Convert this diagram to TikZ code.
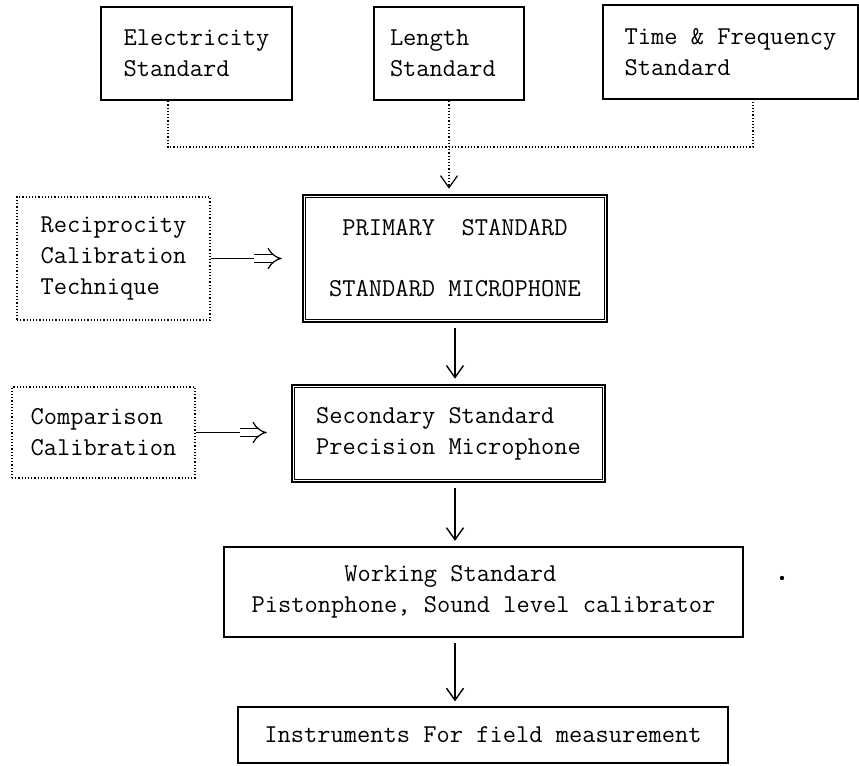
\documentclass[tikz,border=0pt]{standalone}
\usepackage{fontspec}
\usetikzlibrary{arrows.meta,calc}
\begin{document}
\begin{tikzpicture}[x=0.5pt,y=-0.5pt,
  font=\fontsize{12.86pt}{15.5pt}\selectfont\ttfamily,
  box/.style={draw, line width=1.1pt, inner sep=0pt, align=left},
  thinbox/.style={draw, line width=0.6pt, inner sep=0pt, align=left},
  dotbox/.style={draw, densely dotted, line width=0.6pt, inner sep=0pt, align=left},
  dbox/.style={draw, line width=1.3pt, inner sep=0pt, align=center},
  innerline/.style={line width=0.5pt},
  dotline/.style={densely dotted, line width=0.6pt},
  arr/.style={line width=0.7pt, -{Straight Barb[length=6pt,width=8.5pt]}, shorten <=2.5pt, shorten >=2.5pt},
  dotarr/.style={dotline, -{Straight Barb[length=6pt,width=8.5pt]}, shorten >=2.5pt},
  stemline/.style={line width=0.7pt},
  dblarr/.style={double, double distance=3.2pt, line width=0.6pt, -{Implies}}
]
\useasboundingbox (0,0) rectangle (859,766);

% top standards
\node[box, minimum width=95.5pt, minimum height=46.5pt] (elec) at (196.5,53.5) {Electricity\\Standard};
\node[box, minimum width=75pt, minimum height=46.5pt] (len) at (449,53.5) {Length\\\makebox[59pt][l]{Standard}};
\node[box, minimum width=127.5pt, minimum height=47pt] (time) at (730.5,52) {Time \& Frequency\\Standard};

% primary row
\node[dotbox, minimum width=96.5pt, minimum height=61.5pt] (rec) at (113.5,258.5) {Reciprocity\\Calibration\\Technique};
\node[dbox, minimum width=152pt, minimum height=63.5pt] (prim) at (455,258.5) {PRIMARY\ \ STANDARD\\[15pt]STANDARD MICROPHONE};
\draw[innerline] ([xshift=2pt,yshift=2pt]prim.south west) rectangle ([xshift=-2pt,yshift=-2pt]prim.north east);

% secondary row
\node[dotbox, minimum width=91.5pt, minimum height=45.5pt] (comp) at (103.5,432.5) {Comparison\\Calibration};
\node[dbox, align=left, minimum width=156.5pt, minimum height=48.5pt] (sec) at (448.5,433.5) {Secondary Standard\\Precision Microphone};
\draw[innerline] ([xshift=2pt,yshift=2pt]sec.south west) rectangle ([xshift=-2pt,yshift=-2pt]sec.north east);

% working and field
\node[box, minimum width=259.5pt, minimum height=45pt] (work) at (483.5,592) {\phantom{1234567}Working Standard\\Pistonphone, Sound level calibrator};
\node[thinbox, minimum width=245pt, minimum height=28pt] (inst) at (483,735) {Instruments For field measurement};

% speck
\coordinate (speck) at (782,578);
\fill (speck) circle (1.1pt);

% dotted collector
\coordinate (ej) at (168,147);
\coordinate (tj) at (753,147);
\draw[dotline] (elec.south -| ej) -- (ej) -- (tj) -- (time.south -| tj);
\draw[dotarr] (len.south) -- (prim.north -| len.south);

% main column arrows
\coordinate (col) at (455,0);
\draw[arr] (prim.south -| col) -- (sec.north -| col);
\draw[arr] (sec.south -| col) -- (work.north -| col);
\draw[arr] (work.south -| col) -- (inst.north -| col);

% side inputs
\draw[stemline] (rec.east) -- ++(44,0) coordinate (r1);
\draw[dblarr] ([xshift=-0.3pt]r1) -- ([xshift=-10pt]prim.west |- r1);
\draw[stemline] (comp.east) -- ++(45,0) coordinate (r2);
\draw[dblarr] ([xshift=-0.3pt]r2) -- ([xshift=-12pt]sec.west |- r2);
\end{tikzpicture}
\end{document}
